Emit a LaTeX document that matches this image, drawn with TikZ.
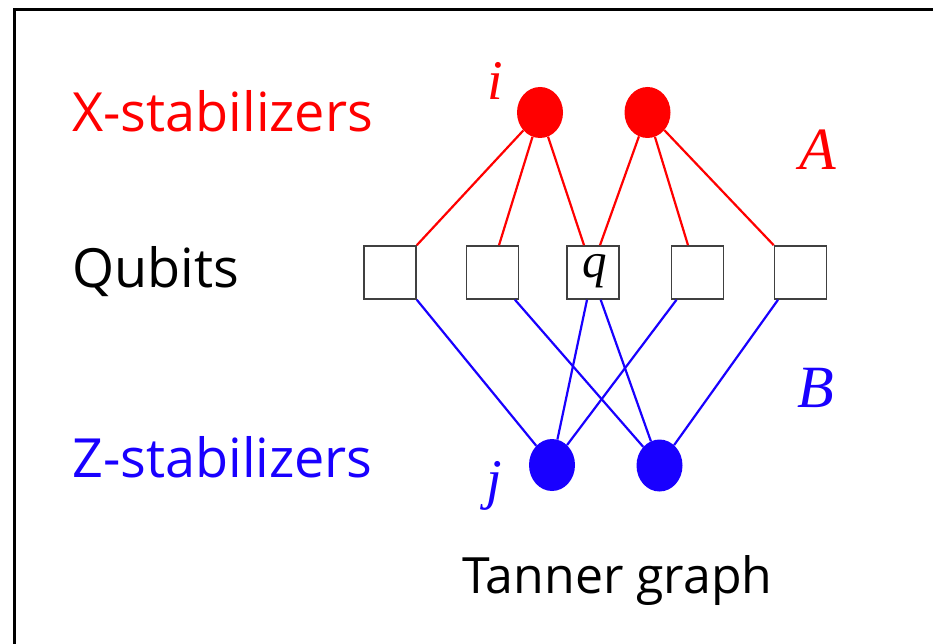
\documentclass[tikz,border=0pt]{standalone}
\usepackage{fontspec}
\setmainfont{Open Sans}
\newfontfamily\timesf{Liberation Serif}
\usetikzlibrary{shapes.geometric}
\definecolor{xred}{RGB}{255,0,0}
\definecolor{zblue}{RGB}{25,0,255}
\begin{document}
\begin{tikzpicture}[x=1pt,y=-1pt,
  xnode/.style={ellipse, fill=xred, minimum width=46pt, minimum height=51pt, inner sep=0pt},
  znode/.style={ellipse, fill=zblue, minimum width=46pt, minimum height=52pt, inner sep=0pt},
  qnode/.style={rectangle, draw=black!75, line width=1.6pt, minimum width=52pt, minimum height=53pt, inner sep=0pt},
  xedge/.style={xred, line width=2.2pt},
  zedge/.style={zblue, line width=2.2pt},
  lab/.style={font=\fontsize{54}{60}\selectfont, anchor=base west, inner sep=0pt},
  mlab/.style={font=\timesf\itshape\fontsize{60}{64}\selectfont, anchor=base west, inner sep=0pt},
  slab/.style={font=\timesf\itshape\fontsize{56}{64}\selectfont, anchor=base west, inner sep=0pt}]
\fill[white] (0,0) rectangle (933,644);
\useasboundingbox (0,0) rectangle (933,644);
\draw[line width=3pt] (14,644) -- (14,10) -- (933,10);

% labels
\node[lab, text=xred] (lx) at (72,132) {X-stabilizers};
\node[lab] (lq) at (72,287) {Qubits};
\node[lab, text=zblue] (lz) at (72,477) {Z-stabilizers};
\node[lab, font=\fontsize{50}{60}\selectfont] (lt) at (462,593) {Tanner graph};

% stabilizers
\node[xnode] (x1) at (540,112.5) {};
\node[xnode] (x2) at (647.5,112.5) {};
\node[znode] (z1) at (552,465) {};
\node[znode] (z2) at (659.5,465.5) {};

% qubits
\node[qnode] (s1) at (390,272.5) {};
\node[qnode] (s2) at (492.5,272.5) {};
\node[qnode] (s3) at (593,272.5) {};
\node[qnode] (s4) at (697.5,272.5) {};
\node[qnode] (s5) at (800.5,272.5) {};

% letter labels
\node[slab, text=xred] (li) at (487,100) {i};
\node[mlab, text=xred] (la) at (799,170) {A};
\node[mlab, text=zblue] (lb) at (797,407) {B};
\node[slab, text=zblue] (lj) at (486,498) {j};
\node[font=\timesf\itshape\fontsize{49}{60}\selectfont, anchor=base, inner sep=0pt] (lqq) at (595,277.5) {q};

% X edges
\draw[xedge] (x1) -- (s1.north east);
\draw[xedge] (x1) -- ([xshift=6.5pt]s2.north);
\draw[xedge] (x1) -- ([xshift=-9pt]s3.north);
\draw[xedge] (x2) -- ([xshift=7pt]s3.north);
\draw[xedge] (x2) -- ([xshift=-9.5pt]s4.north);
\draw[xedge] (x2) -- (s5.north west);

% Z edges
\draw[zedge] (s1.south east) -- (z1);
\draw[zedge] ([xshift=22.5pt]s2.south) -- (z2);
\draw[zedge] ([xshift=-6pt]s3.south) -- (z1);
\draw[zedge] ([xshift=7.7pt]s3.south) -- (z2);
\draw[zedge] ([xshift=-21pt]s4.south) -- (z1);
\draw[zedge] ([xshift=-22.5pt]s5.south) -- (z2);
\end{tikzpicture}
\end{document}
